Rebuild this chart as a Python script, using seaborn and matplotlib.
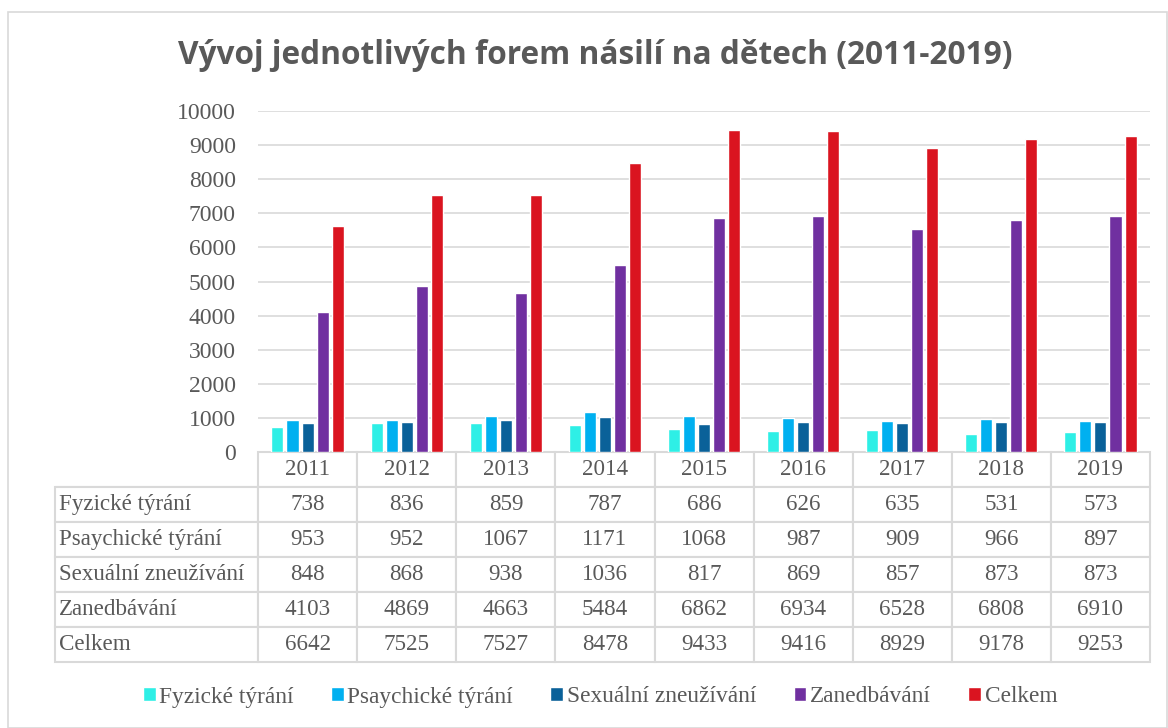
import matplotlib.pyplot as plt
import matplotlib.patches as mpatches
import pandas as pd
import seaborn as sns

years = ['2011', '2012', '2013', '2014', '2015', '2016', '2017', '2018', '2019']
series = ['Fyzické týrání', 'Psaychické týrání', 'Sexuální zneužívání', 'Zanedbávání', 'Celkem']
fyzicke = [738, 836, 859, 787, 686, 626, 635, 531, 573]
psychicke = [953, 952, 1067, 1171, 1068, 987, 909, 966, 897]
sexualni = [848, 868, 938, 1036, 817, 869, 857, 873, 873]
zanedbavani = [4103, 4869, 4663, 5484, 6862, 6934, 6528, 6808, 6910]
celkem = [6642, 7525, 7527, 8478, 9433, 9416, 8929, 9178, 9253]
colors = ['#2EEFE6', '#00B0F0', '#0A6199', '#7030A0', '#DA1420']

values = [fyzicke, psychicke, sexualni, zanedbavani, celkem]
df = pd.DataFrame([
    {'year': y, 'series': s, 'value': v}
    for s, vals in zip(series, values)
    for y, v in zip(years, vals)
])

sns.set_style('white')
plt.rcParams['font.family'] = ['Liberation Serif', 'DejaVu Serif']
text_color = '#595959'
grid_color = '#D9D9D9'

fig = plt.figure(figsize=(11.68, 7.28), dpi=100)
ax = fig.add_axes([258 / 1168, 1 - 452 / 728, 892 / 1168, 341 / 728])

sns.barplot(df, x='year', y='value', hue='series', hue_order=series,
            palette=colors, width=0.76, gap=0.2, ax=ax, errorbar=None,
            saturation=1)

ax.set_ylim(0, 10000)
ax.set_yticks(range(0, 10001, 1000))
ax.tick_params(axis='y', labelsize=17, labelcolor=text_color, length=0, pad=16)
ax.yaxis.grid(True, color=grid_color, linewidth=1.2)
ax.set_axisbelow(True)
ax.set_xticks([])
ax.set_xlabel('')
ax.set_ylabel('')
for sp in ax.spines.values():
    sp.set_visible(False)

# legend
handles, labels = ax.get_legend_handles_labels()
ax.get_legend().remove()
fig.legend(handles, labels, loc='center', bbox_to_anchor=(600 / 1168, 1 - 697 / 728),
           ncol=5, frameon=False, fontsize=16.8, handlelength=0.55, handleheight=0.55,
           handletextpad=0.15, columnspacing=1.6, labelcolor=text_color)

# data table (first column holds the row labels)
cell_text = [[s] + [str(v) for v in vals] for s, vals in zip(series, values)]
tbl = ax.table(cellText=cell_text, colLabels=[''] + years,
               cellLoc='center',
               colWidths=[203 / 892] + [99 / 892] * 9,
               bbox=[(55 - 258) / 892, -210 / 341, 1095 / 892, 210 / 341])
tbl.auto_set_font_size(False)
tbl.set_fontsize(16.6)
for (r, c), cell in tbl.get_celld().items():
    cell.set_edgecolor(grid_color)
    cell.set_linewidth(1.5)
    cell.get_text().set_color(text_color)
    if c == 0:
        cell._loc = 'left'
        cell.PAD = 0.02
        cell.get_text().set_horizontalalignment('left')
        if r == 0:
            cell.visible_edges = 'B'

fig.text(595 / 1168, 1 - 56 / 728, 'Vývoj jednotlivých forem násilí na dětech (2011-2019)',
         ha='center', va='center', fontsize=22.8, fontweight='bold',
         color=text_color, family=['Open Sans', 'DejaVu Sans'])

fig.patches.append(mpatches.Rectangle((8 / 1168, 0), 1 - 9 / 1168, 1 - 12 / 728,
                                      transform=fig.transFigure, fill=False,
                                      edgecolor=grid_color, linewidth=1.2))

fig.savefig('out.png', dpi=100)
